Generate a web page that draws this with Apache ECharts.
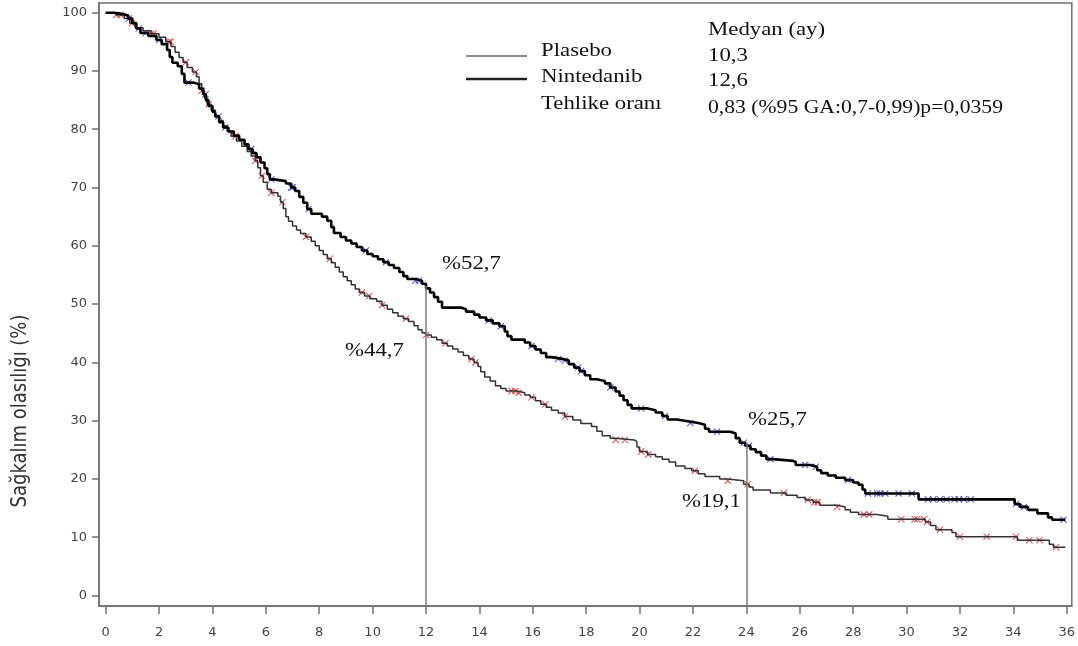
<!DOCTYPE html>
<html><head><meta charset="utf-8">
<script src="https://cdn.jsdelivr.net/npm/echarts@6.0.0/dist/echarts.min.js"></script>
<style>html,body{margin:0;padding:0;background:#fff}#c{width:1078px;height:646px}</style>
</head><body><div id="c"></div>
<script>
// ---- data ----
const xTicks = [0,2,4,6,8,10,12,14,16,18,20,22,24,26,28,30,32,34,36];
const yTicks = [0,10,20,30,40,50,60,70,80,90,100];
const seriesNames = ['Plasebo','Nintedanib'];
const medianMonths = [10.3, 12.6];
const hazardText = '0,83 (%95 GA:0,7-0,99)p=0,0359';
const landmarkMonths = [12, 24];
const placeboAtLandmark = [44.7, 19.1];
const nintedanibAtLandmark = [52.7, 25.7];

// Kaplan-Meier steps: [month, survival %]
const placebo = [[0,100],[0.4,99.6],[0.7,99.0],[0.9,98.2],[1.1,97.4],[1.4,96.9],[1.7,96.4],[2.0,95.8],[2.25,95.0],[2.45,94.2],[2.6,93.2],[2.75,92.3],[2.9,91.5],[3.05,90.6],[3.25,89.8],[3.4,89.0],[3.5,87.8],[3.6,86.6],[3.7,85.4],[3.8,84.3],[3.95,83.3],[4.1,82.3],[4.25,81.5],[4.4,80.6],[4.55,79.6],[4.7,78.8],[4.9,78.0],[5.1,77.1],[5.3,76.2],[5.45,75.4],[5.6,74.6],[5.7,73.4],[5.8,72.0],[5.9,70.9],[6.05,69.7],[6.2,69.1],[6.45,68.5],[6.55,67.5],[6.65,66.4],[6.75,65.0],[6.85,64.2],[7.0,63.4],[7.15,62.7],[7.3,62.1],[7.5,61.5],[7.7,60.8],[7.85,60.0],[8.0,59.2],[8.15,58.5],[8.3,57.8],[8.45,57.1],[8.6,56.3],[8.75,55.5],[8.9,54.7],[9.05,54.0],[9.2,53.3],[9.35,52.6],[9.5,52.0],[9.7,51.4],[9.9,50.9],[10.15,50.5],[10.35,49.8],[10.55,49.1],[10.75,48.5],[10.95,47.9],[11.15,47.5],[11.35,47.0],[11.55,46.3],[11.7,45.6],[11.85,45.1],[12.0,44.7],[12.2,44.3],[12.4,43.9],[12.6,43.3],[12.8,42.8],[13.0,42.3],[13.2,41.8],[13.4,41.2],[13.6,40.6],[13.8,40.0],[13.95,39.3],[14.05,38.4],[14.2,37.5],[14.4,36.8],[14.6,36.0],[14.8,35.5],[15.0,35.1],[15.4,34.8],[15.7,34.4],[15.9,34.0],[16.1,33.4],[16.3,32.8],[16.5,32.3],[16.7,31.8],[16.95,31.3],[17.2,30.7],[17.5,30.1],[17.8,29.5],[18.2,29.0],[18.4,28.2],[18.6,27.4],[18.9,27.0],[19.1,26.7],[19.8,26.4],[19.9,25.5],[20.0,24.7],[20.3,24.2],[20.6,23.8],[20.85,23.4],[21.1,22.9],[21.35,22.2],[21.7,21.8],[21.95,21.4],[22.2,20.9],[22.45,20.4],[23.0,20.0],[23.3,19.7],[23.9,19.1],[24.1,18.6],[24.25,18.1],[24.9,17.6],[25.5,17.2],[25.9,16.8],[26.2,16.4],[26.5,16.0],[26.75,15.5],[27.4,15.2],[27.7,14.7],[27.9,14.3],[28.2,13.9],[28.9,13.6],[29.3,13.1],[30.7,12.6],[30.9,12.0],[31.1,11.3],[31.7,10.8],[31.85,10.1],[34.15,9.5],[35.35,8.8],[35.5,8.3],[35.95,8.3]];
const nintedanib = [[0,100],[0.3,99.8],[0.6,99.5],[0.85,99.0],[1.0,98.2],[1.15,97.3],[1.3,96.5],[1.6,96.0],[1.9,95.3],[2.1,94.6],[2.3,93.6],[2.4,92.4],[2.5,91.4],[2.7,90.8],[2.85,89.5],[2.95,88.0],[3.3,87.7],[3.5,87.0],[3.65,86.0],[3.75,85.0],[3.85,84.0],[4.0,83.0],[4.1,82.2],[4.25,81.2],[4.4,80.3],[4.6,79.6],[4.8,78.9],[5.0,78.2],[5.2,77.4],[5.35,76.6],[5.5,75.9],[5.65,75.2],[5.8,74.3],[5.95,73.3],[6.05,72.3],[6.15,71.4],[6.3,71.1],[6.75,70.7],[6.95,70.0],[7.1,69.4],[7.25,68.4],[7.4,67.4],[7.55,66.3],[7.7,65.5],[8.1,65.0],[8.3,64.3],[8.45,63.2],[8.55,62.2],[8.8,61.5],[9.0,60.9],[9.2,60.4],[9.4,59.8],[9.6,59.2],[9.8,58.6],[10.0,58.2],[10.2,57.7],[10.4,57.2],[10.6,56.7],[10.8,56.2],[11.0,55.5],[11.15,54.8],[11.3,54.3],[11.6,54.0],[11.85,53.5],[12.0,52.7],[12.15,52.0],[12.3,51.2],[12.45,50.4],[12.6,49.4],[13.3,49.1],[13.5,48.7],[13.8,48.2],[14.0,47.7],[14.25,47.2],[14.5,46.7],[14.75,46.2],[14.95,45.3],[15.05,44.5],[15.2,43.9],[15.7,43.4],[15.9,42.8],[16.1,42.2],[16.3,41.6],[16.5,40.9],[16.7,40.6],[17.1,40.3],[17.35,39.7],[17.55,39.1],[17.75,38.5],[17.95,37.8],[18.15,37.1],[18.4,36.8],[18.7,36.4],[18.9,35.7],[19.1,35.0],[19.25,34.3],[19.4,33.5],[19.55,32.7],[19.7,32.1],[20.3,31.8],[20.6,31.4],[20.85,30.8],[21.05,30.2],[21.4,29.9],[21.8,29.6],[22.2,29.3],[22.45,28.6],[22.6,28.1],[23.4,27.8],[23.6,27.0],[23.75,26.2],[23.95,25.7],[24.15,25.1],[24.35,24.6],[24.55,24.0],[24.75,23.4],[25.0,23.1],[25.75,22.9],[25.85,22.4],[26.4,22.1],[26.65,21.5],[26.8,21.0],[27.05,20.6],[27.35,20.2],[27.7,19.8],[28.0,19.4],[28.2,19.0],[28.35,18.2],[28.45,17.5],[30.45,16.5],[34.05,15.7],[34.25,15.2],[34.55,14.7],[34.9,14.1],[35.3,13.4],[35.45,13.0],[35.95,13.0]];
// censoring times (months)
const placeboCensor = [0.4,0.57,0.98,1.7,1.8,2.36,2.43,3.0,3.37,3.6,3.86,4.86,5.6,5.85,6.2,6.62,7.5,8.4,9.6,9.87,10.35,11.25,12.0,12.73,13.7,13.85,15.2,15.35,15.47,15.95,16.47,17.2,19.1,19.45,20.06,20.32,22.07,23.3,24.05,25.4,26.3,26.55,26.66,27.4,28.4,28.6,29.8,30.3,30.4,30.65,30.77,31.25,32.0,33.0,34.1,34.6,34.98,35.6];
const nintedanibCensor = [0.87,1.24,1.5,2.0,3.1,3.74,4.23,4.49,5.46,6.2,6.95,7.0,7.6,9.75,10.5,11.6,11.73,14.35,14.8,15.95,16.95,17.2,17.7,17.8,18.9,20.06,20.95,21.9,22.9,23.9,24.1,24.9,26.2,26.6,27.8,28.55,28.9,29.0,29.2,29.7,30.2,30.8,31.0,31.25,31.5,31.8,31.96,32.15,32.4,34.1,34.4,35.88];

// ---- helpers ----
function kmAt(curve, t){ let v = curve[0][1]; for (const p of curve){ if (p[0] <= t) v = p[1]; else break; } return v; }
function fmt(v){ return String(v).replace('.', ','); }
const X_MIN = -0.25, X_MAX = 36.19, Y_MIN = -1.8, Y_MAX = 101.66;
const cross = 'path://M0,1L1,0L5,4L9,0L10,1L6,5L10,9L9,10L5,6L1,10L0,9L4,5Z';
const frame = '#707070';

const chart = echarts.init(document.getElementById('c'));
const serif = 'Liberation Serif';
function txt(text, x, y, size, sx){
  return {type:'text', x:x, y:y, scaleX:(sx || 1.2), silent:true,
    style:{text:text, fill:'#111', font: size + 'px "' + serif + '"', align:'left', verticalAlign:'middle'}};
}

chart.setOption({
  animation:false,
  backgroundColor:'#fff',
  grid:{left:99, right:3, top:3, bottom:40, show:true, borderColor:frame, borderWidth:1.5},
  xAxis:{type:'value', min:X_MIN, max:X_MAX, splitLine:{show:false},
    axisLine:{show:true, onZero:false, lineStyle:{color:frame, width:1.5}},
    axisTick:{show:true, inside:false, length:8, customValues:xTicks, lineStyle:{color:frame, width:1.5}},
    axisLabel:{customValues:xTicks, margin:20, color:'#444', fontFamily:'DejaVu Sans', fontSize:13}},
  yAxis:{type:'value', min:Y_MIN, max:Y_MAX, splitLine:{show:false},
    axisLine:{show:true, onZero:false, lineStyle:{color:frame, width:1.5}},
    axisTick:{show:true, inside:false, length:7, customValues:yTicks, lineStyle:{color:frame, width:1.5}},
    axisLabel:{customValues:yTicks, margin:12, color:'#444', fontFamily:'DejaVu Sans', fontSize:13}},
  series:[
    {type:'scatter', silent:true, z:2, symbol:cross, symbolSize:7,
      itemStyle:{color:'#e3262a', opacity:0.85},
      data: placeboCensor.map(t => [t, kmAt(placebo, t)])},
    {type:'scatter', silent:true, z:2, symbol:cross, symbolSize:7,
      itemStyle:{color:'#2b3bd9', opacity:0.85},
      data: nintedanibCensor.map(t => [t, kmAt(nintedanib, t)])},
    {type:'line', name:seriesNames[0], step:'end', symbol:'none', z:3, data:placebo,
      lineStyle:{color:'#333', width:1.5},
      markLine:{silent:true, symbol:'none', label:{show:false}, animation:false,
        lineStyle:{color:'#7a7a7a', width:1.5, type:'solid'},
        data: landmarkMonths.map((m,i) => [{coord:[m, Y_MIN]}, {coord:[m, nintedanibAtLandmark[i] + 0.4]}])}},
    {type:'line', name:seriesNames[1], step:'end', symbol:'none', z:4, data:nintedanib,
      lineStyle:{color:'#000', width:2.6}}
  ],
  graphic:[
    {type:'line', silent:true, shape:{x1:466, y1:56, x2:527, y2:56}, style:{stroke:'#8a8a8a', lineWidth:2}},
    {type:'line', silent:true, shape:{x1:466, y1:79, x2:527, y2:79}, style:{stroke:'#222', lineWidth:2.5}},
    txt('Medyan (ay)', 708, 30, 19),
    txt(seriesNames[0], 541, 51, 19),
    txt(seriesNames[1], 541, 77, 19),
    txt('Tehlike oranı', 541, 104, 19),
    txt(fmt(medianMonths[0]), 708, 56, 19),
    txt(fmt(medianMonths[1]), 708, 81, 19),
    txt(hazardText, 708, 108, 19, 1.14),
    txt('%' + fmt(nintedanibAtLandmark[0]), 442, 264, 19),
    txt('%' + fmt(placeboAtLandmark[0]), 345, 351, 19),
    txt('%' + fmt(nintedanibAtLandmark[1]), 748, 420, 19),
    txt('%' + fmt(placeboAtLandmark[1]), 682, 502, 19),
    {type:'text', x:21, y:411, rotation:Math.PI/2, scaleY:1.15, silent:true,
      style:{text:'Sağkalım olasılığı (%)', fill:'#333', font:'18px "DejaVu Sans"', align:'center', verticalAlign:'middle'}}
  ]
});
</script></body></html>
